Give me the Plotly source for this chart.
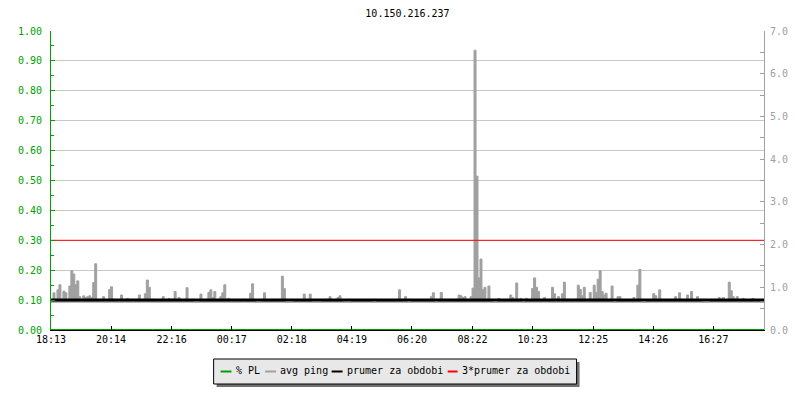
import plotly.graph_objects as go

# ---------------- data ----------------
title_text = "10.150.216.237"
tick_labels = ["18:13", "20:14", "22:16", "00:17", "02:18", "04:19",
               "06:20", "08:22", "10:23", "12:25", "14:26", "16:27"]
series_names = ["% PL", "avg ping", "prumer za obdobi", "3*prumer za obdobi"]

sample_step_min = 4  # minutes between samples

# avg ping in ms (right axis)
avg_ping = [
    0.65, 0.87, 0.66, 0.94, 1.06, 0.72, 0.91, 0.87, 0.70, 1.03, 1.39, 1.31, 1.06, 1.15, 0.78, 0.65, 0.80, 0.76, 0.78, 0.80,
    0.76, 1.11, 1.55, 0.68, 0.68, 0.66, 0.78, 0.65, 0.68, 0.95, 1.01, 0.72, 0.66, 0.68, 0.65, 0.82, 0.72, 0.68, 0.74, 0.66,
    0.68, 0.65, 0.68, 0.72, 0.82, 0.68, 0.72, 0.85, 1.17, 1.00, 0.72, 0.68, 0.66, 0.68, 0.65, 0.68, 0.78, 0.68, 0.66, 0.74,
    0.68, 0.72, 0.90, 0.68, 0.76, 0.68, 0.66, 0.72, 0.99, 0.70, 0.68, 0.66, 0.65, 0.65, 0.65, 0.84, 0.68, 0.66, 0.72, 0.88,
    0.94, 0.76, 0.90, 0.68, 0.72, 0.78, 0.87, 1.06, 0.68, 0.74, 0.66, 0.68, 0.65, 0.68, 0.66, 0.68, 0.68, 0.72, 0.68, 0.70,
    0.86, 1.08, 0.70, 0.65, 0.65, 0.65, 0.66, 0.87, 0.68, 0.66, 0.68, 0.68, 0.72, 0.68, 0.66, 0.68, 1.26, 0.97, 0.65, 0.65,
    0.65, 0.65, 0.66, 0.68, 0.68, 0.66, 0.68, 0.84, 0.70, 0.68, 0.84, 0.65, 0.65, 0.65, 0.65, 0.65, 0.66, 0.68, 0.68, 0.70,
    0.78, 0.68, 0.68, 0.66, 0.76, 0.80, 0.68, 0.65, 0.65, 0.65, 0.65, 0.66, 0.68, 0.68, 0.66, 0.68, 0.68, 0.66, 0.68, 0.68,
    0.68, 0.66, 0.65, 0.65, 0.68, 0.68, 0.65, 0.68, 0.68, 0.66, 0.68, 0.68, 0.68, 0.66, 0.72, 0.94, 0.68, 0.65, 0.78, 0.65,
    0.65, 0.66, 0.68, 0.68, 0.66, 0.68, 0.68, 0.68, 0.66, 0.68, 0.70, 0.78, 0.87, 0.65, 0.65, 0.72, 0.88, 0.65, 0.68, 0.68,
    0.72, 0.68, 0.66, 0.68, 0.72, 0.82, 0.80, 0.76, 0.78, 0.68, 0.72, 0.78, 0.98, 6.55, 3.60, 1.22, 1.66, 0.94, 1.00, 0.72,
    1.03, 0.72, 0.65, 0.65, 0.65, 0.74, 0.65, 0.68, 0.68, 0.70, 0.72, 0.82, 0.76, 0.70, 1.10, 0.68, 0.74, 0.65, 0.65, 0.74,
    0.66, 0.68, 0.97, 1.22, 1.00, 0.90, 0.68, 0.72, 0.76, 0.70, 0.68, 0.66, 1.00, 0.85, 0.65, 0.78, 0.65, 0.85, 1.12, 0.68,
    0.72, 0.66, 0.68, 0.66, 0.72, 1.05, 0.95, 0.80, 1.00, 0.68, 0.65, 0.88, 0.72, 1.05, 0.88, 1.19, 1.39, 0.90, 0.82, 0.86,
    0.68, 0.72, 1.03, 0.65, 0.65, 0.78, 0.78, 0.68, 0.66, 0.68, 0.68, 0.66, 0.68, 0.76, 0.68, 1.05, 1.42, 0.65, 0.65, 0.65,
    0.68, 0.66, 0.68, 0.85, 0.80, 0.68, 0.94, 0.70, 0.68, 0.66, 0.68, 0.68, 0.66, 0.70, 0.78, 0.68, 0.87, 0.72, 0.68, 0.70,
    0.82, 0.68, 0.90, 0.72, 0.68, 0.78, 0.68, 0.66, 0.65, 0.65, 0.65, 0.65, 0.68, 0.66, 0.68, 0.70, 0.76, 0.68, 0.76, 0.68,
    0.70, 1.12, 0.92, 0.78, 0.68, 0.78, 0.65, 0.68, 0.74, 0.68, 0.66, 0.68, 0.70, 0.74, 0.68, 0.66, 0.68, 0.65, 0.65, 0.65,
]
# packet loss (left axis, fraction) reads as 0 for the whole period
pct_pl = [0.0] * len(avg_ping)
prumer = 0.70          # period average ping, ms
prumer3 = 3 * prumer   # 3*prumer

# ---------------- derived positions ----------------
sample_minutes = [i * sample_step_min for i in range(len(avg_ping))]


def to_min(lbl):
    h, m = map(int, lbl.split(":"))
    return h * 60 + m


start_min = to_min(tick_labels[0])
tick_vals = [(to_min(t) - start_min) % 1440 for t in tick_labels]
x_end = sample_minutes[-1]

GREEN = "#00a000"
GRAY = "#a0a0a0"
FONT = "DejaVu Sans Mono"
fill_floor = 0.64  # bottom of the gray ping fill (hidden under the average line)

fig = go.Figure()
fig.add_trace(go.Scatter(x=sample_minutes, y=pct_pl, name=series_names[0], mode="lines",
                         line=dict(color=GREEN, width=2), yaxis="y", showlegend=False))
fig.add_trace(go.Scatter(x=[sample_minutes[0], x_end], y=[fill_floor, fill_floor], mode="lines",
                         line=dict(width=0, color=GRAY), yaxis="y2", showlegend=False,
                         hoverinfo="skip"))
fig.add_trace(go.Scatter(x=sample_minutes, y=avg_ping, name=series_names[1], mode="lines",
                         line=dict(color=GRAY, width=1, shape="hv"), fill="tonexty",
                         fillcolor=GRAY, yaxis="y2", showlegend=False))
fig.add_trace(go.Scatter(x=[sample_minutes[0], x_end], y=[prumer, prumer], name=series_names[2],
                         mode="lines", line=dict(color="black", width=3), yaxis="y2", showlegend=False))
fig.add_trace(go.Scatter(x=[sample_minutes[0], x_end], y=[prumer3, prumer3], name=series_names[3],
                         mode="lines", line=dict(color="red", width=1), yaxis="y2", showlegend=False))

L, R, T, B = 51, 770, 31, 330


def px(x):
    return (x - L) / (R - L)


def py(y):
    return (B - y) / (B - T)


shapes = [
    dict(type="rect", xref="paper", yref="paper", x0=px(218), x1=px(584), y0=py(387), y1=py(362),
         fillcolor="#707070", line=dict(width=0), layer="above"),
    dict(type="rect", xref="paper", yref="paper", x0=px(215), x1=px(581), y0=py(384), y1=py(359),
         fillcolor="#e8e8e8", line=dict(color="black", width=1), layer="above"),
]
legend_colors = [GREEN, GRAY, "black", "red"]
legend_line_x = [(222, 233), (267, 278), (334, 345), (451, 461)]
legend_text_x = [236, 280, 347, 463]
annotations = []
for name, col, (a, b), tx in zip(series_names, legend_colors, legend_line_x, legend_text_x):
    shapes.append(dict(type="line", xref="paper", yref="paper", x0=px(a), x1=px(b),
                       y0=py(371.5), y1=py(371.5), line=dict(color=col, width=2), layer="above"))
    annotations.append(dict(text=name, xref="paper", yref="paper", x=px(tx), y=py(370.5),
                            xanchor="left", yanchor="middle", showarrow=False,
                            font=dict(family=FONT, size=10, color="black")))

fig.update_layout(
    width=800, height=400,
    margin=dict(l=L, r=800 - R, t=T, b=400 - B),
    paper_bgcolor="white", plot_bgcolor="white",
    title=dict(text=title_text, x=px(410.5), xref="paper", y=1 - 13 / 400, yanchor="middle",
               xanchor="center", font=dict(family=FONT, size=10, color="black")),
    showlegend=False,
    xaxis=dict(range=[0, x_end], tickvals=tick_vals, ticktext=tick_labels,
               showline=True, linecolor="black", linewidth=1,
               ticks="inside", ticklen=4, tickcolor="black", showgrid=False, zeroline=False,
               tickfont=dict(family=FONT, size=10, color="black")),
    yaxis=dict(range=[0, 1], dtick=0.1, tickformat=".2f", showgrid=True, gridcolor="#c8c8c8",
               gridwidth=1, showline=True, linecolor=GREEN, linewidth=1, zeroline=False,
               ticks="inside", ticklen=4, tickcolor=GREEN, ticklabelstandoff=6,
               minor=dict(dtick=0.05, ticks="inside", ticklen=3, tickcolor=GREEN, showgrid=False),
               tickfont=dict(family=FONT, size=10, color=GREEN)),
    yaxis2=dict(range=[0, 7], dtick=1, tickformat=".1f", overlaying="y", side="right",
                showgrid=False, showline=True, linecolor=GRAY, linewidth=1, zeroline=False,
                ticks="inside", ticklen=4, tickcolor=GRAY, ticklabelstandoff=3,
                minor=dict(dtick=0.5, ticks="inside", ticklen=4, tickcolor=GRAY, showgrid=False),
                tickfont=dict(family=FONT, size=10, color=GRAY)),
    shapes=shapes,
    annotations=annotations,
)

fig.write_html("out.html", config={"displayModeBar": False},
               post_script="document.body.style.margin='0px';")
